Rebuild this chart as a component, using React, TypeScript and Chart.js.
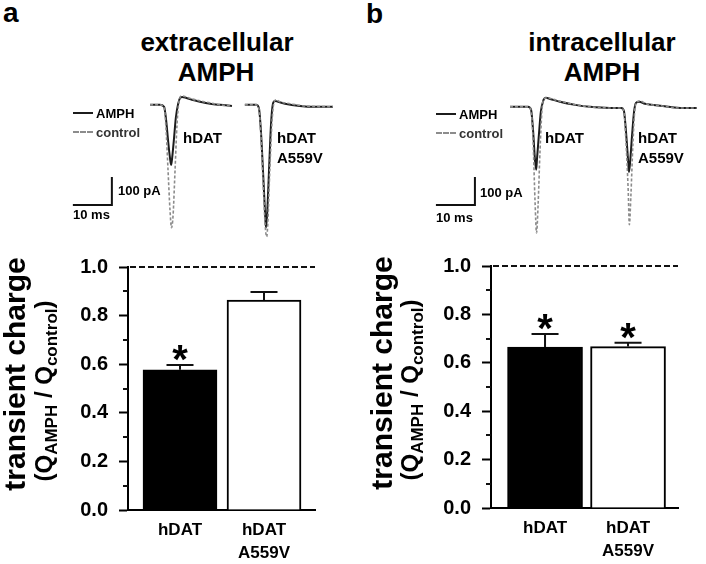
import React, { useEffect, useRef } from 'react';
import { Chart, registerables } from 'chart.js';

Chart.register(...registerables);

const FONT = '"Liberation Sans", Arial, Helvetica, sans-serif';

// ---------- bar chart data ----------
const barCategories = [['hDAT'], ['hDAT', 'A559V']];
const barPositions = [1, 2];
const extMeans = [0.577, 0.864];
const extErrors = [0.02, 0.033];
const extSignificant = [true, false];
const intMeans = [0.665, 0.667];
const intErrors = [0.054, 0.016];
const intSignificant = [true, true];
const yTickValues = [0, 0.2, 0.4, 0.6, 0.8, 1.0];
const yMinorTickValues = [0.1, 0.3, 0.5, 0.7, 0.9];
const referenceLevel = 1.0;
const barFill = ['#000000', '#ffffff'];

// ---------- current traces: [time (ms), current (pA)] ----------
const extHdatAmph = [[23.1, 0], [25.6, 0], [26.7, -7], [27.2, -53], [27.7, -125], [28.2, -189], [28.5, -214], [28.7, -196], [29.2, -125], [29.7, -46], [30.3, 4], [30.8, 25], [31.3, 28], [32.3, 25], [33.8, 18], [35.9, 11], [38.5, 4], [41.0, 0], [44.1, -4]];
const extHdatControl = [[23.1, 0], [25.6, 0], [26.7, -11], [27.2, -89], [27.7, -232], [28.2, -374], [28.6, -438], [29.0, -392], [29.5, -232], [30.0, -71], [30.5, 11], [31.3, 32], [32.3, 28], [33.8, 21], [35.9, 14], [38.5, 7], [41.0, 0], [44.1, -4]];
const extMutAmph = [[47.4, 0], [50.3, 0], [51.0, -11], [51.5, -89], [52.1, -249], [52.6, -392], [52.8, -438], [53.1, -392], [53.6, -232], [54.1, -71], [54.6, 4], [55.1, 14], [55.9, 11], [57.7, 4], [61.5, -4], [65.4, -7], [70.0, -7]];
const extMutControl = [[47.4, 0], [50.3, 0], [51.0, -14], [51.5, -107], [52.1, -285], [52.6, -428], [53.0, -470], [53.3, -417], [53.8, -232], [54.4, -53], [54.9, 11], [55.4, 18], [56.4, 11], [59.0, 4], [62.8, -4], [70.0, -7]];
const intAmph = [[21.8, 0], [26.4, 0], [27.2, -11], [27.7, -82], [28.2, -189], [28.5, -224], [28.7, -189], [29.2, -100], [29.7, -18], [30.3, 21], [31.0, 32], [32.1, 28], [34.6, 18], [38.5, 7], [42.3, 0], [47.4, -4], [50.3, -4], [51.0, -14], [51.5, -82], [52.1, -196], [52.3, -232], [52.6, -196], [53.1, -100], [53.6, -18], [54.1, 14], [54.9, 18], [56.4, 11], [60.3, 4], [65.4, -4], [69.7, -4]];
const intControl = [[21.8, 0], [26.4, 0], [27.2, -14], [27.7, -118], [28.2, -331], [28.6, -449], [29.0, -349], [29.5, -153], [30.0, -11], [30.5, 28], [31.3, 32], [32.6, 28], [35.1, 18], [39.0, 7], [42.3, 0], [47.4, -4], [50.3, -4], [51.0, -18], [51.5, -118], [52.1, -296], [52.4, -420], [52.8, -314], [53.3, -135], [53.8, -11], [54.4, 18], [55.1, 21], [56.7, 11], [60.3, 4], [65.4, -4], [69.7, -4]];
// scale bars: 10 ms x 100 pA
const extScaleBarT = [3.3, 13.3];
const extScaleBarI = [-357, -257];
const intScaleBarT = [2.8, 12.8];
const intScaleBarI = [-350, -250];

const traceYMin = -510;
const traceYMax = 60;

function pts(arr: number[][]) {
  return arr.map(([x, y]) => ({ x, y }));
}

function makeTraceConfig(amph: number[][][], control: number[][][], sbT: number[], sbI: number[], xMax: number) {
  const datasets: any[] = [];
  control.forEach((c) =>
    datasets.push({
      data: pts(c),
      borderColor: '#8c8c8c',
      borderWidth: 1.6,
      borderDash: [3, 2],
      pointRadius: 0,
      cubicInterpolationMode: 'monotone',
      clip: false,
    })
  );
  amph.forEach((a) =>
    datasets.push({
      data: pts(a),
      borderColor: '#1c1c1c',
      borderWidth: 2,
      pointRadius: 0,
      cubicInterpolationMode: 'monotone',
      clip: false,
    })
  );
  datasets.push({
    data: [
      { x: sbT[0], y: sbI[0] },
      { x: sbT[1], y: sbI[0] },
      { x: sbT[1], y: sbI[1] },
    ],
    borderColor: '#111',
    borderWidth: 2,
    pointRadius: 0,
    tension: 0,
    clip: false,
  });
  return {
    type: 'line',
    data: { datasets },
    options: {
      responsive: false,
      animation: false,
      devicePixelRatio: 1,
      layout: { padding: 0 },
      plugins: { legend: { display: false }, tooltip: { enabled: false } },
      scales: {
        x: { type: 'linear', min: 0, max: xMax, display: false },
        y: { type: 'linear', min: traceYMin, max: traceYMax, display: false },
      },
    },
  };
}

function makeBarExtras(means: number[], errors: number[], sig: boolean[]) {
  return {
    id: 'barExtras',
    afterDraw(chart: any) {
      const { ctx, chartArea, scales } = chart;
      const x = scales.x;
      const y = scales.y;
      ctx.save();
      ctx.strokeStyle = '#111';
      ctx.lineWidth = 2;
      // reference dashed line
      ctx.setLineDash([6, 3]);
      const yr = y.getPixelForValue(referenceLevel);
      ctx.beginPath();
      ctx.moveTo(chartArea.left + 2, yr);
      ctx.lineTo(chartArea.right, yr);
      ctx.stroke();
      ctx.setLineDash([]);
      // minor ticks
      yMinorTickValues.forEach((v) => {
        const py = Math.round(y.getPixelForValue(v));
        ctx.beginPath();
        ctx.moveTo(chartArea.left - 5, py);
        ctx.lineTo(chartArea.left, py);
        ctx.stroke();
      });
      // error bars + significance
      means.forEach((m, i) => {
        const px = x.getPixelForValue(barPositions[i]);
        const p0 = y.getPixelForValue(m);
        const p1 = y.getPixelForValue(m + errors[i]);
        ctx.beginPath();
        ctx.moveTo(px, p0);
        ctx.lineTo(px, p1);
        ctx.moveTo(px - 13.5, p1);
        ctx.lineTo(px + 13.5, p1);
        ctx.stroke();
        if (sig[i]) {
          ctx.font = `bold 40px ${FONT}`;
          ctx.fillStyle = '#000';
          ctx.textAlign = 'center';
          ctx.textBaseline = 'alphabetic';
          const mm = ctx.measureText('*');
          const cy = p1 - 12;
          const base = cy + (mm.actualBoundingBoxAscent - mm.actualBoundingBoxDescent) / 2;
          ctx.fillText('*', px, base);
        }
      });
      ctx.restore();
    },
  };
}

function makeBarConfig(p: any) {
  return {
    type: 'bar',
    data: {
      datasets: [
        {
          data: barPositions.map((v, i) => ({ x: v, y: p.means[i] })),
          backgroundColor: barFill,
          borderColor: '#000',
          borderWidth: 2,
          barThickness: p.barThickness,
        },
      ],
    },
    options: {
      responsive: false,
      animation: false,
      devicePixelRatio: 1,
      layout: { padding: { top: p.padTop, right: p.padRight, left: 0, bottom: 0 } },
      plugins: { legend: { display: false }, tooltip: { enabled: false } },
      scales: {
        x: {
          type: 'linear',
          min: p.xMin,
          max: p.xMax,
          offset: false,
          grid: { display: false, drawTicks: false },
          border: { display: true, color: '#000', width: 2 },
          afterBuildTicks: (s: any) => {
            s.ticks = barPositions.map((v) => ({ value: v }));
          },
          afterFit: (s: any) => {
            s.height = p.xAxisHeight;
          },
          ticks: {
            autoSkip: false,
            maxRotation: 0,
            minRotation: 0,
            padding: 8,
            color: '#000',
            font: { family: FONT, size: 17, weight: 'bold', lineHeight: 1.4 },
            callback: (v: number) => {
              const i = barPositions.indexOf(v);
              return i >= 0 ? barCategories[i] : '';
            },
          },
        },
        y: {
          type: 'linear',
          min: 0,
          max: 1,
          afterBuildTicks: (s: any) => {
            s.ticks = yTickValues.map((v) => ({ value: v }));
          },
          afterFit: (s: any) => {
            s.width = p.axisWidth;
          },
          grid: {
            display: true,
            drawOnChartArea: false,
            drawTicks: true,
            tickLength: 9,
            tickColor: '#000',
            tickWidth: 2,
          },
          border: { display: true, color: '#000', width: 2 },
          ticks: {
            padding: 11,
            color: '#000',
            font: { family: FONT, size: 20, weight: 'bold' },
            callback: (v: number) => Number(v).toFixed(1),
          },
        },
      },
    },
    plugins: [makeBarExtras(p.means, p.errors, p.sig)],
  };
}

function ChartCanvas({ left, top, width, height, build }: any) {
  const ref = useRef<HTMLCanvasElement>(null);
  useEffect(() => {
    const c = new Chart(ref.current as HTMLCanvasElement, build());
    return () => c.destroy();
  }, []);
  return (
    <canvas
      ref={ref}
      width={width}
      height={height}
      style={{ position: 'absolute', left, top, width, height }}
    />
  );
}

function Txt({ x, y, size, children, align = 'left', color = '#000' }: any) {
  return (
    <div
      style={{
        position: 'absolute',
        left: x,
        top: y,
        transform: `translate(${align === 'center' ? '-50%' : '0'}, -50%)`,
        font: `700 ${size}px ${FONT}`,
        lineHeight: 1,
        color,
        whiteSpace: 'nowrap',
      }}
    >
      {children}
    </div>
  );
}

function VTxt({ x, y, size, children }: any) {
  return (
    <div
      style={{
        position: 'absolute',
        left: x,
        top: y,
        transform: 'translate(-50%, -50%) rotate(-90deg)',
        font: `700 ${size}px ${FONT}`,
        lineHeight: 1,
        color: '#000',
        whiteSpace: 'nowrap',
      }}
    >
      {children}
    </div>
  );
}

function LegendLine({ x, y, dashed }: any) {
  return (
    <div
      style={{
        position: 'absolute',
        left: x,
        top: y - 1,
        width: 20,
        height: 0,
        borderTop: dashed ? '2px dashed #8c8c8c' : '2px solid #1c1c1c',
      }}
    />
  );
}

function YTitle({ x1, x2, y1, y2 }: any) {
  const sub = { fontSize: 17, verticalAlign: '-0.25em' } as any;
  return (
    <>
      <VTxt x={x1} y={y1} size={30}>transient charge</VTxt>
      <VTxt x={x2} y={y2} size={24}>
        (Q<span style={sub}>AMPH</span> / Q<span style={sub}>control</span>)
      </VTxt>
    </>
  );
}

export default function App() {
  return (
    <div
      style={{
        position: 'absolute',
        left: 0,
        top: 0,
        width: 706,
        height: 564,
        overflow: 'hidden',
        background: '#fff',
      }}
    >
      {/* Panel a */}
      <Txt x={3} y={13} size={28}>a</Txt>
      <Txt x={217} y={42} size={26} align="center">extracellular</Txt>
      <Txt x={216} y={72} size={26} align="center">AMPH</Txt>
      <ChartCanvas
        left={60}
        top={88}
        width={285}
        height={160}
        build={() =>
          makeTraceConfig([extHdatAmph, extMutAmph], [extHdatControl, extMutControl], extScaleBarT, extScaleBarI, 285 / 3.9)
        }
      />
      <LegendLine x={73} y={113} />
      <Txt x={96} y={113} size={13}>AMPH</Txt>
      <LegendLine x={73} y={132} dashed />
      <Txt x={96} y={132} size={13} color="#333">control</Txt>
      <Txt x={118} y={190} size={13}>100 pA</Txt>
      <Txt x={73} y={214} size={13}>10 ms</Txt>
      <Txt x={183} y={137} size={15}>hDAT</Txt>
      <Txt x={277} y={137} size={15}>hDAT</Txt>
      <Txt x={277} y={157} size={15}>A559V</Txt>
      <ChartCanvas
        left={0}
        top={240}
        width={340}
        height={324}
        build={() =>
          makeBarConfig({
            means: extMeans,
            errors: extErrors,
            sig: extSignificant,
            xMin: 0.381,
            xMax: 2.607,
            barThickness: 74,
            axisWidth: 128,
            xAxisHeight: 54,
            padTop: 27,
            padRight: 25,
          })
        }
      />
      <YTitle x1={15} x2={46} y1={374} y2={391} />

      {/* Panel b */}
      <Txt x={366} y={14} size={28}>b</Txt>
      <Txt x={602} y={42} size={26} align="center">intracellular</Txt>
      <Txt x={602} y={72} size={26} align="center">AMPH</Txt>
      <ChartCanvas
        left={425}
        top={90}
        width={280}
        height={160}
        build={() => makeTraceConfig([intAmph], [intControl], intScaleBarT, intScaleBarI, 280 / 3.9)}
      />
      <LegendLine x={436} y={114} />
      <Txt x={459} y={114} size={13}>AMPH</Txt>
      <LegendLine x={436} y={133} dashed />
      <Txt x={459} y={133} size={13} color="#333">control</Txt>
      <Txt x={480} y={192} size={13}>100 pA</Txt>
      <Txt x={436} y={217} size={13}>10 ms</Txt>
      <Txt x={545} y={137} size={15}>hDAT</Txt>
      <Txt x={638} y={137} size={15}>hDAT</Txt>
      <Txt x={638} y={157} size={15}>A559V</Txt>
      <ChartCanvas
        left={363}
        top={240}
        width={340}
        height={324}
        build={() =>
          makeBarConfig({
            means: intMeans,
            errors: intErrors,
            sig: intSignificant,
            xMin: 0.349,
            xMax: 2.602,
            barThickness: 75,
            axisWidth: 128,
            xAxisHeight: 56,
            padTop: 26,
            padRight: 25,
          })
        }
      />
      <YTitle x1={382} x2={412} y1={373} y2={390} />
    </div>
  );
}
